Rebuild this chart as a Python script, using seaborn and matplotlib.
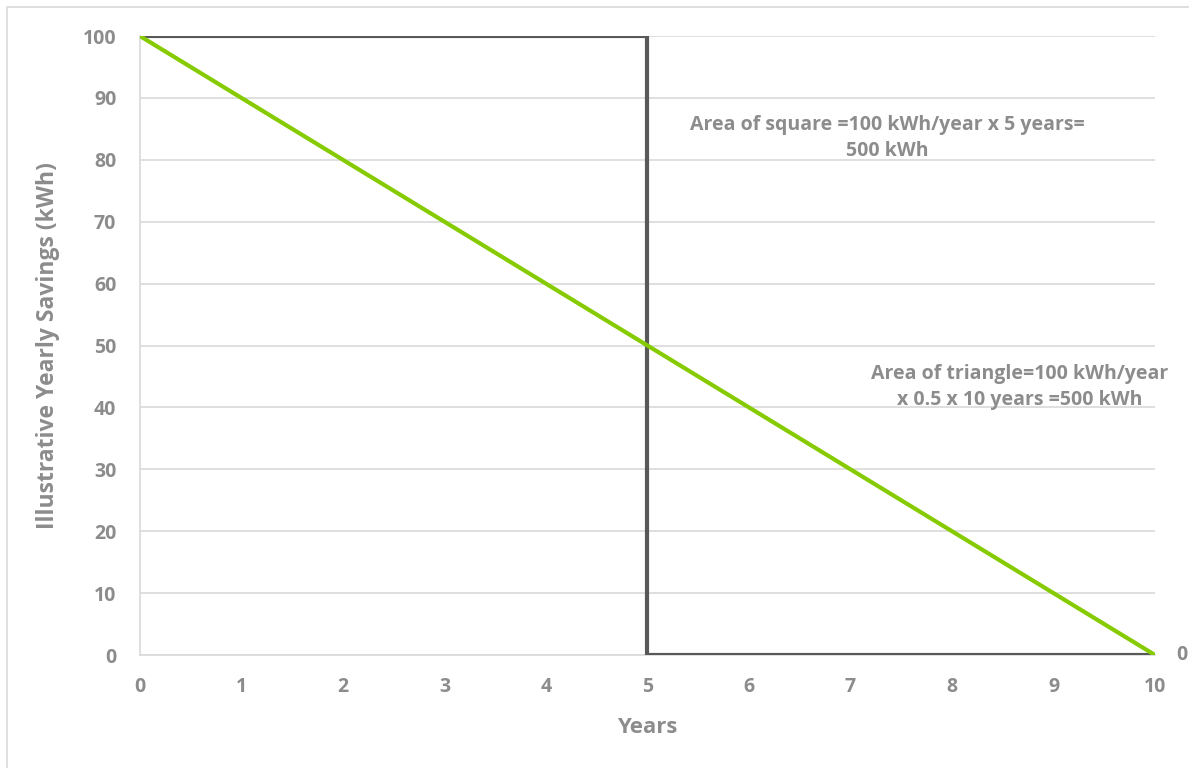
import matplotlib
matplotlib.use("Agg")
import matplotlib.pyplot as plt
from matplotlib.patches import Rectangle
import seaborn as sns
import pandas as pd

# Declining yearly savings over the measure lifetime
years = [0, 1, 2, 3, 4, 5, 6, 7, 8, 9, 10]
savings = [100, 90, 80, 70, 60, 50, 40, 30, 20, 10, 0]

# Constant savings held for five years, then dropping to zero
square_years = [0, 5, 5, 10]
square_savings = [100, 100, 0, 0]

x_ticks = [0, 1, 2, 3, 4, 5, 6, 7, 8, 9, 10]
y_ticks = [0, 10, 20, 30, 40, 50, 60, 70, 80, 90, 100]

square_note = "Area of square =100 kWh/year x 5 years=\n500 kWh"
triangle_note = "Area of triangle=100 kWh/year\nx 0.5 x 10 years =500 kWh"

sns.set_theme(style="white")
plt.rcParams["font.family"] = ["Open Sans", "DejaVu Sans"]

text_grey = "#8C8C8C"
grid_grey = "#D9D9D9"
dark_grey = "#595959"
green = "#86CB00"

fig = plt.figure(figsize=(11.89, 7.68), dpi=100)
ax = fig.add_axes([0.1177, 0.1471, 0.8537, 0.8060])

ax.yaxis.grid(True, color=grid_grey, linewidth=1.2)
ax.set_axisbelow(True)

sq_df = pd.DataFrame({"Years": square_years, "Savings": square_savings})
sns.lineplot(data=sq_df, x="Years", y="Savings", sort=False, ax=ax,
             color=dark_grey, linewidth=3, estimator=None, zorder=3)

line_df = pd.DataFrame({"Years": years, "Savings": savings})
sns.lineplot(data=line_df, x="Years", y="Savings", ax=ax,
             color=green, linewidth=3, zorder=4)

# value label at the end of the declining line
ax.annotate(f"{savings[-1]}", xy=(years[-1], savings[-1]), xytext=(15, 0),
            textcoords="offset points", ha="left", va="center",
            fontsize=14, fontweight="bold", color=text_grey, annotation_clip=False)

ax.set_xlim(0, 10)
ax.set_ylim(0, 100)
ax.set_xticks(x_ticks)
ax.set_yticks(y_ticks)
ax.set_xticklabels([str(t) for t in x_ticks])
ax.set_yticklabels([str(t) for t in y_ticks])
ax.tick_params(axis="both", length=0, labelsize=14, labelcolor=text_grey)
ax.tick_params(axis="x", pad=16)
ax.tick_params(axis="y", pad=17)
for lab in ax.get_xticklabels() + ax.get_yticklabels():
    lab.set_fontweight("bold")

for side in ["top", "right"]:
    ax.spines[side].set_visible(False)
for side in ["left", "bottom"]:
    ax.spines[side].set_color(grid_grey)
    ax.spines[side].set_linewidth(1.2)

ax.set_xlabel("Years", fontsize=16, fontweight="bold", color=text_grey, labelpad=14)
ax.set_ylabel("Illustrative Yearly Savings (kWh)", fontsize=16.5, fontweight="bold",
              color=text_grey, labelpad=16)

ax.text(7.36, 83.5, square_note, ha="center", va="center", fontsize=14,
        fontweight="bold", color=text_grey, linespacing=1.4)
ax.text(8.67, 43.3, triangle_note, ha="center", va="center", fontsize=14,
        fontweight="bold", color=text_grey, linespacing=1.4)

# light frame around the chart area (its right and bottom run past the canvas)
fig.patches.append(Rectangle((7 / 1189, -0.05), 1.1, 1.05 - 7 / 768,
                             transform=fig.transFigure, fill=False,
                             edgecolor=grid_grey, linewidth=1.2))

fig.savefig("out.png", dpi=100)
